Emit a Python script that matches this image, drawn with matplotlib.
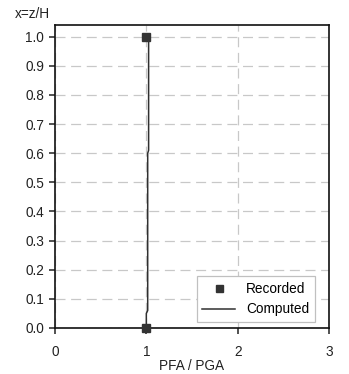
import matplotlib
matplotlib.use("Agg")
import matplotlib.pyplot as plt

plt.rcParams['font.family'] = ['Liberation Sans', 'DejaVu Sans']

# recorded peak floor acceleration ratios
rec_ratio = [1.0, 1.0]
rec_height = [0.0, 1.0]

# computed profile
comp_ratio = [1.0, 1.0, 1.015, 1.015, 1.025, 1.025]
comp_height = [0.0, 0.05, 0.06, 0.6, 0.61, 1.0]

xticks = [0, 1, 2, 3]
yticks = [0.0, 0.1, 0.2, 0.3, 0.4, 0.5, 0.6, 0.7, 0.8, 0.9, 1.0]

fs = 9.8
fig = plt.figure(figsize=(3.49, 3.74), dpi=100)
ax = fig.add_axes([0.1576, 0.123, 0.785, 0.81])

ax.plot(comp_ratio, comp_height, color='#303030', lw=1.1, label='Computed', zorder=3)
ax.plot(rec_ratio, rec_height, ls='none', marker='s', ms=6.3, color='#333333',
        label='Recorded', zorder=4, clip_on=False)

ax.set_xlim(0, 3)
ax.set_ylim(0, 1.04)
ax.set_xticks(xticks)
ax.set_yticks(yticks)
ax.set_yticklabels([f'{v:.1f}' for v in yticks])
ax.tick_params(direction='out', length=4, width=1.1, labelsize=fs, colors='#222222')
ax.tick_params(axis='y', pad=4)
ax.tick_params(axis='x', pad=8)
ax.grid(True, ls=(0, (8, 4.5)), color='#c8c8c8', lw=0.9)
ax.set_axisbelow(True)
for s in ax.spines.values():
    s.set_linewidth(1.2)
    s.set_color('#111111')

ax.set_xlabel('PFA / PGA', fontsize=fs, labelpad=0, color='#222222')
fig.text(0.043, 0.962, 'x=z/H', fontsize=fs, color='#222222', ha='left', va='center')

h, l = ax.get_legend_handles_labels()
leg = ax.legend([h[1], h[0]], [l[1], l[0]], loc='lower right', fontsize=fs,
                fancybox=False, framealpha=1, edgecolor='#c0c0c0', markerscale=0.8,
                handlelength=2.4, borderaxespad=0.45, bbox_to_anchor=(0.97, 0.0))
leg.get_frame().set_linewidth(0.9)

fig.savefig('out.png', dpi=100)
